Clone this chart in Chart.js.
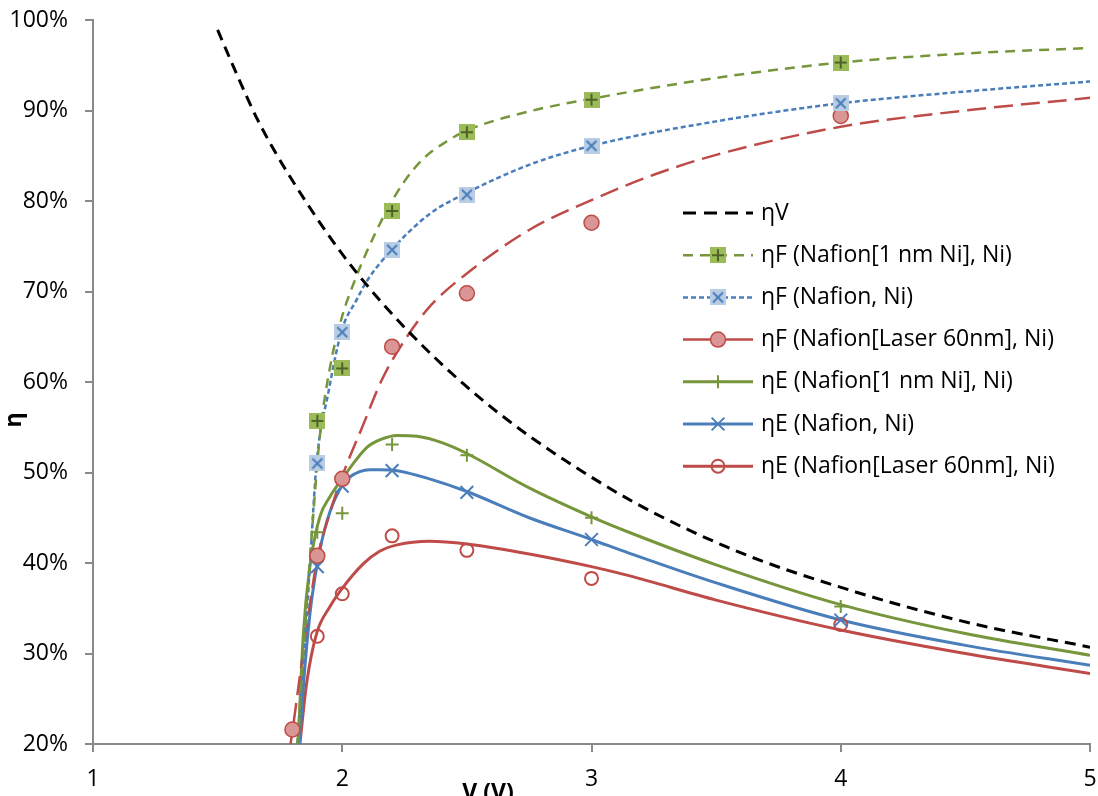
<!DOCTYPE html>
<html>
<head>
<meta charset="utf-8">
<script src="https://cdn.jsdelivr.net/npm/chart.js@4.4.0/dist/chart.umd.min.js"></script>
<style>
  html, body { margin: 0; padding: 0; background: #fff; }
  canvas { display: block; }
</style>
</head>
<body>
<canvas id="etaChart" width="1098" height="796"></canvas>
<script>
// measured points (V) and efficiencies (%)
const markerV = [1.8, 1.9, 2.0, 2.2, 2.5, 3.0, 4.0];
const etaF1nm    = [null, 55.7, 61.5, 78.9, 87.6, 91.2, 95.3];
const etaFNafion = [null, 51.0, 65.5, 74.6, 80.7, 86.1, 90.8];
const etaFLaser  = [21.6, 40.8, 49.3, 63.9, 69.8, 77.6, 89.4];
const etaE1nm    = [null, 43.4, 45.5, 53.1, 51.9, 45.0, 35.2];
const etaENafion = [null, 39.6, 48.5, 50.2, 47.8, 42.6, 33.7];
const etaELaser  = [null, 31.9, 36.6, 43.0, 41.4, 38.3, 33.2];

// model curves
const etaVx = [1.5, 1.58, 1.66, 1.79, 2.06, 2.49, 3.04, 3.54, 4.06, 4.53, 5.0];
const etaVy = [98.9, 93.8, 89.0, 82.7, 72.0, 59.7, 48.8, 41.8, 36.8, 33.3, 30.7];

const fitF1nmX = [1.82, 1.85, 1.88, 1.91, 1.95, 2.0, 2.05, 2.1, 2.17, 2.25, 2.33, 2.42, 2.5, 2.75, 3.0, 3.5, 4.0, 4.5, 5.0];
const fitF1nmY = [20, 32.5, 44, 54, 61.5, 67.3, 71.2, 74.5, 78.5, 82.2, 84.8, 86.6, 87.8, 89.9, 91.3, 93.6, 95.3, 96.3, 96.9];

const fitFNafionX = [1.82, 1.844, 1.87, 1.897, 1.944, 1.998, 2.058, 2.1, 2.198, 2.352, 2.5, 2.75, 3.0, 3.5, 4.0, 4.5, 5.0];
const fitFNafionY = [20, 28.5, 39.6, 51.0, 58.8, 65.7, 69.1, 71.2, 74.6, 78.6, 80.9, 84.0, 86.1, 88.8, 90.8, 92.1, 93.2];

const fitFLaserX = [1.79, 1.8, 1.85, 1.9, 1.95, 2.0, 2.08, 2.16, 2.25, 2.35, 2.5, 2.75, 3.0, 3.25, 3.5, 4.0, 4.5, 5.0];
const fitFLaserY = [19.5, 21.4, 31.5, 40.5, 45.5, 49.6, 55.0, 60.3, 64.6, 68.3, 72.0, 76.8, 80.1, 82.9, 85.1, 88.2, 90.0, 91.4];

const fitE1nmX = [1.823, 1.844, 1.87, 1.91, 1.95, 2.0, 2.05, 2.1, 2.15, 2.22, 2.3, 2.4, 2.5, 2.75, 3.0, 3.15, 3.5, 4.0, 4.5, 5.0];
const fitE1nmY = [20, 32.2, 39.6, 45.1, 47.3, 49.3, 51.2, 52.8, 53.6, 54.1, 54.0, 53.3, 52.1, 48.3, 45.1, 43.4, 39.8, 35.4, 32.2, 29.8];

const fitENafionX = [1.828, 1.85, 1.877, 1.91, 1.95, 2.0, 2.03, 2.07, 2.11, 2.15, 2.22, 2.35, 2.5, 2.75, 3.0, 3.15, 3.5, 4.0, 4.5, 5.0];
const fitENafionY = [20, 28.5, 35.9, 41.4, 45.6, 48.6, 49.5, 50.1, 50.3, 50.3, 50.2, 49.3, 47.9, 45.0, 42.6, 41.1, 37.8, 33.7, 30.9, 28.7];

const fitELaserX = [1.83, 1.857, 1.897, 1.951, 2.0, 2.084, 2.15, 2.22, 2.35, 2.5, 2.75, 3.0, 3.15, 3.5, 4.0, 4.5, 5.0];
const fitELaserY = [20, 26.7, 32.2, 35.2, 37.2, 39.9, 41.3, 42.0, 42.4, 42.1, 41.0, 39.6, 38.6, 35.9, 32.6, 30.0, 27.8];

const yTicks = [20, 30, 40, 50, 60, 70, 80, 90, 100];
const xTicks = [1, 2, 3, 4, 5];

const GREEN = '#77963B', GREEN_FILL = '#9BBB59', GREEN_DARK = '#4F6228';
const BLUE = '#4A7EBB', BLUE_FILL = '#B9CDE5';
const RED = '#BE4B48', RED_FILL = '#D99694';
const FONT = '"Open Sans", Lato, sans-serif';

function pts(xs, ys) {
    return xs.map((x, i) => ({ x: x, y: ys[i] })).filter(p => p.y !== null);
}

// square marker with a cross / x drawn inside
function squareMark(fill, stroke, kind) {
    const c = document.createElement('canvas');
    c.width = 16; c.height = 16;
    const g = c.getContext('2d');
    g.fillStyle = fill;
    g.fillRect(0, 0, 16, 16);
    g.strokeStyle = stroke;
    g.lineWidth = 2;
    g.beginPath();
    if (kind === '+') {
        g.moveTo(8, 2); g.lineTo(8, 14);
        g.moveTo(2, 8); g.lineTo(14, 8);
    } else {
        g.moveTo(3, 3); g.lineTo(13, 13);
        g.moveTo(13, 3); g.lineTo(3, 13);
    }
    g.stroke();
    return c;
}
const greenSquare = squareMark(GREEN_FILL, GREEN_DARK, '+');
const blueSquare = squareMark(BLUE_FILL, BLUE, 'x');

function curve(xs, ys, color, width, dash) {
    return {
        data: pts(xs, ys), borderColor: color, borderWidth: width, borderDash: dash,
        pointRadius: 0, fill: false, cubicInterpolationMode: 'monotone', order: 2
    };
}
function marks(ys, style) {
    return Object.assign({ data: pts(markerV, ys), showLine: false, order: 1 }, style);
}

const datasets = [
    curve(etaVx, etaVy, '#000000', 3, [11, 7]),                     // 0
    curve(fitF1nmX, fitF1nmY, GREEN, 2.5, [10, 7]),                 // 1
    curve(fitFNafionX, fitFNafionY, BLUE, 2.5, [5, 3]),             // 2
    curve(fitFLaserX, fitFLaserY, RED, 2.5, [19, 8]),               // 3
    curve(fitE1nmX, fitE1nmY, GREEN, 3, []),                        // 4
    curve(fitENafionX, fitENafionY, BLUE, 3, []),                   // 5
    curve(fitELaserX, fitELaserY, RED, 3, []),                      // 6
    marks(etaF1nm, { pointStyle: greenSquare, pointRadius: 8 }),    // 7
    marks(etaFNafion, { pointStyle: blueSquare, pointRadius: 8 }),  // 8
    marks(etaFLaser, { pointStyle: 'circle', pointRadius: 7.5, pointBackgroundColor: RED_FILL, pointBorderColor: RED, pointBorderWidth: 1.5 }),
    marks(etaE1nm, { pointStyle: 'cross', pointRadius: 6.5, pointBorderColor: GREEN, pointBorderWidth: 2 }),
    marks(etaENafion, { pointStyle: 'crossRot', pointRadius: 9, pointBorderColor: BLUE, pointBorderWidth: 2 }),
    marks(etaELaser, { pointStyle: 'circle', pointRadius: 6.5, pointBackgroundColor: 'rgba(0,0,0,0)', pointBorderColor: RED, pointBorderWidth: 2 })
];

// legend rows: label, curve dataset, marker dataset, optional line dash override
const legendRows = [
    { text: 'ηV', line: 0, mark: null, dash: [13, 8] },
    { text: 'ηF (Nafion[1 nm Ni], Ni)', line: 1, mark: 7 },
    { text: 'ηF (Nafion, Ni)', line: 2, mark: 8 },
    { text: 'ηF (Nafion[Laser 60nm], Ni)', line: 3, mark: 9, dash: [] },
    { text: 'ηE (Nafion[1 nm Ni], Ni)', line: 4, mark: 10 },
    { text: 'ηE (Nafion, Ni)', line: 5, mark: 11 },
    { text: 'ηE (Nafion[Laser 60nm], Ni)', line: 6, mark: 12 }
];

const extras = {
    id: 'extras',
    afterDraw(chart) {
        const ctx = chart.ctx;
        ctx.save();
        // axis titles
        ctx.fillStyle = '#000';
        ctx.font = 'bold 23px ' + FONT;
        ctx.textAlign = 'center';
        ctx.textBaseline = 'alphabetic';
        ctx.fillText('V (V)', 488, 800);
        ctx.save();
        ctx.translate(21, 420);
        ctx.rotate(-Math.PI / 2);
        ctx.fillText('η', 0, 0);
        ctx.restore();

        // legend
        const x0 = 683, x1 = 753, tx = 761;
        legendRows.forEach((row, i) => {
            const y = 213 + i * 42.2;
            const ds = chart.data.datasets[row.line];
            ctx.save();
            ctx.strokeStyle = ds.borderColor;
            ctx.lineWidth = ds.borderWidth;
            ctx.setLineDash(row.dash || ds.borderDash || []);
            ctx.beginPath();
            ctx.moveTo(x0, y);
            ctx.lineTo(x1, y);
            ctx.stroke();
            ctx.restore();
            if (row.mark !== null) {
                const m = chart.data.datasets[row.mark];
                ctx.save();
                ctx.fillStyle = m.pointBackgroundColor || 'rgba(0,0,0,0)';
                ctx.strokeStyle = m.pointBorderColor || '#000';
                ctx.lineWidth = m.pointBorderWidth || 1;
                Chart.helpers.drawPoint(ctx, {
                    pointStyle: m.pointStyle, radius: m.pointRadius, rotation: 0, borderWidth: m.pointBorderWidth || 1
                }, (x0 + x1) / 2, y);
                ctx.restore();
            }
            ctx.fillStyle = '#000';
            ctx.font = '23px ' + FONT;
            ctx.textAlign = 'left';
            ctx.textBaseline = 'middle';
            ctx.fillText(row.text, tx, y);
        });
        ctx.restore();
    }
};

const axisColor = '#898989';
new Chart(document.getElementById('etaChart').getContext('2d'), {
    type: 'line',
    data: { datasets: datasets },
    options: {
        responsive: false,
        animation: false,
        layout: { autoPadding: false, padding: { left: 0, right: 8, top: 20, bottom: 0 } },
        plugins: { legend: { display: false }, tooltip: { enabled: false } },
        scales: {
            x: {
                type: 'linear', min: 1, max: 5,
                afterBuildTicks: s => { s.ticks = xTicks.map(v => ({ value: v })); },
                afterFit: s => { s.height = 52; s.paddingLeft = 0; s.paddingRight = 0; },
                ticks: { color: '#000', font: { family: FONT, size: 23 }, padding: 14 },
                grid: { drawOnChartArea: false, drawTicks: true, tickLength: 8, color: axisColor, lineWidth: 2 },
                border: { color: axisColor, width: 2 }
            },
            y: {
                type: 'linear', min: 20, max: 100,
                afterBuildTicks: s => { s.ticks = yTicks.map(v => ({ value: v })); },
                afterFit: s => { s.width = 93; s.paddingTop = 0; s.paddingBottom = 0; },
                ticks: { color: '#000', font: { family: FONT, size: 23 }, padding: 17, callback: v => v + '%' },
                grid: { drawOnChartArea: false, drawTicks: true, tickLength: 8, color: axisColor, lineWidth: 2 },
                border: { color: axisColor, width: 2 }
            }
        }
    },
    plugins: [extras]
});
</script>
</body>
</html>
